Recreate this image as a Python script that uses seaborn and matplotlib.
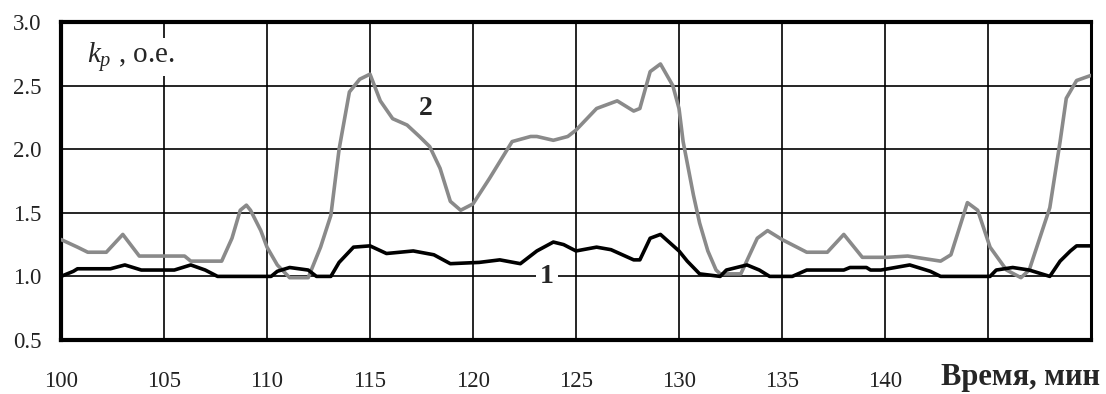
import matplotlib
matplotlib.use("Agg")
import matplotlib.pyplot as plt
import seaborn as sns
import pandas as pd

# ---- data ----
time_1 = [100, 100.6, 100.8, 102.4, 103.1, 103.9, 105.5, 106.3, 107.0, 107.6, 110.2, 110.5,
          111.1, 112.0, 112.4, 113.1, 113.5, 114.2, 115.0, 115.8, 117.1, 118.1, 118.9, 120.3,
          121.3, 122.3, 123.1, 123.9, 124.4, 125.0, 126.0, 126.7, 127.8, 128.1, 128.6, 129.1,
          130.0, 130.4, 131.0, 132.0, 132.3, 133.3, 133.9, 134.4, 135.5, 136.2, 138.0, 138.3,
          139.1, 139.3, 139.8, 141.2, 142.2, 142.7, 145.1, 145.4, 146.2, 147.0, 148.0, 148.5,
          149.0, 149.3, 150.0]
kp_1 = [1.00, 1.04, 1.06, 1.06, 1.09, 1.05, 1.05, 1.09, 1.05, 1.00, 1.00, 1.04,
        1.07, 1.05, 1.00, 1.00, 1.11, 1.23, 1.24, 1.18, 1.20, 1.17, 1.10, 1.11,
        1.13, 1.10, 1.20, 1.27, 1.25, 1.20, 1.23, 1.21, 1.13, 1.13, 1.30, 1.33,
        1.20, 1.12, 1.02, 1.00, 1.05, 1.09, 1.05, 1.00, 1.00, 1.05, 1.05, 1.07,
        1.07, 1.05, 1.05, 1.09, 1.04, 1.00, 1.00, 1.05, 1.07, 1.05, 1.00, 1.12,
        1.20, 1.24, 1.24]

time_2 = [100, 100.8, 101.3, 102.2, 103.0, 103.8, 106.0, 106.3, 107.8, 108.3, 108.7, 109.0,
          109.2, 109.7, 110.0, 110.5, 111.1, 112.0, 112.6, 113.1, 113.5, 114.0, 114.5, 115.0,
          115.5, 116.1, 116.8, 117.4, 117.9, 118.4, 118.9, 119.4, 120.0, 120.8, 121.9, 122.8,
          123.1, 123.9, 124.6, 125.0, 126.0, 127.0, 127.8, 128.1, 128.6, 129.1, 129.7, 130.0,
          130.2, 130.7, 131.0, 131.4, 131.8, 132.0, 133.0, 133.8, 134.3, 135.0, 136.2, 137.2,
          138.0, 138.9, 140.1, 141.1, 142.7, 143.2, 144.0, 144.5, 145.1, 145.9, 146.6, 147.0,
          148.0, 148.5, 148.8, 149.3, 150.0]
kp_2 = [1.29, 1.23, 1.19, 1.19, 1.33, 1.16, 1.16, 1.12, 1.12, 1.30, 1.52, 1.56,
        1.52, 1.36, 1.23, 1.09, 0.99, 0.99, 1.23, 1.48, 2.00, 2.45, 2.55, 2.59,
        2.38, 2.24, 2.19, 2.10, 2.02, 1.85, 1.59, 1.52, 1.57, 1.77, 2.06, 2.10,
        2.10, 2.07, 2.10, 2.15, 2.32, 2.38, 2.30, 2.32, 2.61, 2.67, 2.50, 2.32,
        2.06, 1.64, 1.42, 1.20, 1.05, 1.02, 1.02, 1.30, 1.36, 1.29, 1.19, 1.19,
        1.33, 1.15, 1.15, 1.16, 1.12, 1.17, 1.58, 1.52, 1.23, 1.05, 0.99, 1.05,
        1.54, 2.06, 2.40, 2.54, 2.58]

x_ticks = [100, 105, 110, 115, 120, 125, 130, 135, 140, 145, 150]
x_tick_labels = ["100", "105", "110", "115", "120", "125", "130", "135", "140", "", ""]
y_ticks = [0.5, 1.0, 1.5, 2.0, 2.5, 3.0]
y_tick_labels = ["0.5", "1.0", "1.5", "2.0", "2.5", "3.0"]

df1 = pd.DataFrame({"t": time_1, "kp": kp_1})
df2 = pd.DataFrame({"t": time_2, "kp": kp_2})

sns.set_style("white")
plt.rcParams["font.family"] = ["Liberation Serif", "DejaVu Serif"]
plt.rcParams["mathtext.fontset"] = "custom"
plt.rcParams["mathtext.it"] = "Liberation Serif:italic"
plt.rcParams["mathtext.rm"] = "Liberation Serif"

fig = plt.figure(figsize=(11.06, 3.94), dpi=100)
ax = fig.add_axes([61 / 1106, 1 - 340 / 394, (1091 - 61) / 1106, (340 - 22) / 394])

sns.lineplot(data=df2, x="t", y="kp", ax=ax, color="#8a8a8a", linewidth=2.6, zorder=3)
sns.lineplot(data=df1, x="t", y="kp", ax=ax, color="black", linewidth=2.6, zorder=4)

ax.set_xlim(100, 150)
ax.set_ylim(0.5, 3.0)
ax.set_xticks(x_ticks)
ax.set_xticklabels(x_tick_labels)
ax.set_yticks(y_ticks)
ax.set_yticklabels(y_tick_labels)
ax.grid(True, color="black", linewidth=1.2)
ax.set_axisbelow(True)
ax.tick_params(axis="both", length=0, labelsize=16.5, colors="#222222")
ax.tick_params(axis="x", pad=22)
ax.tick_params(axis="y", pad=14)
ax.set_xlabel("")
ax.set_ylabel("")
for side in ["left", "bottom", "top"]:
    ax.spines[side].set_linewidth(3.0)
    ax.spines[side].set_color("black")
ax.spines["right"].set_linewidth(2.2)
ax.spines["right"].set_color("black")

ax.text(0.025, 0.89, r"$k_p$ , о.е.", transform=ax.transAxes, fontsize=21,
        ha="left", va="center", zorder=5,
        bbox=dict(facecolor="white", edgecolor="none", pad=1.5))
ax.text(117.7, 2.32, "2", fontsize=20, fontweight="bold", ha="center", va="center", zorder=5)
ax.text(123.6, 1.0, "1", fontsize=20, fontweight="bold", ha="center", va="center", zorder=5,
        bbox=dict(facecolor="white", edgecolor="none", pad=3))

fig.text(1100 / 1106, 1 - 378 / 394, "Время, мин", fontsize=22, fontweight="bold",
         ha="right", va="center")

fig.savefig("out.png", dpi=100)
